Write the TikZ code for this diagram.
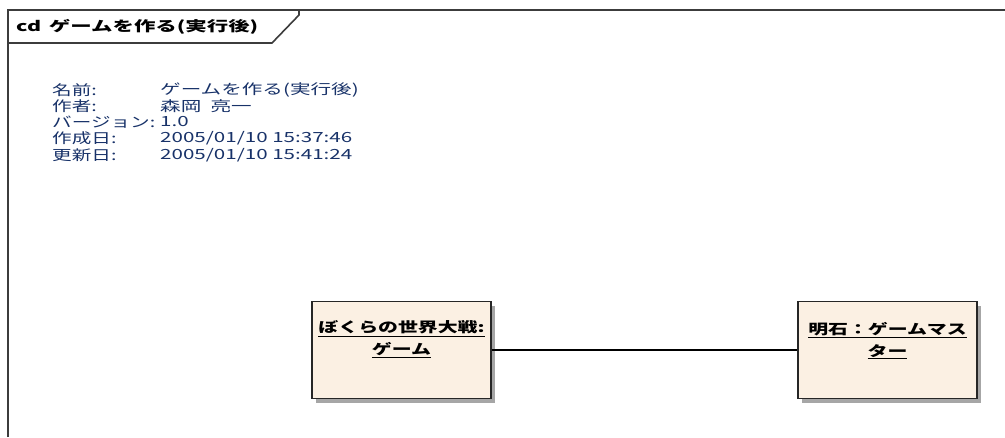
\documentclass[tikz,border=0pt]{standalone}
\usepackage{fontspec}
\usetikzlibrary{shadows}
\newfontfamily\jp[FakeStretch=1.47]{Noto Sans CJK JP}
\newfontfamily\jplab[FakeStretch=1.4]{Noto Sans CJK JP}
\newfontfamily\jpbox[FakeStretch=1.42]{Noto Sans CJK JP}
\newfontfamily\jptitle[FakeStretch=1.53]{Noto Sans CJK JP}
\definecolor{infoblue}{RGB}{24,50,105}
\definecolor{boxfill}{RGB}{251,240,227}
\definecolor{framegray}{RGB}{60,60,60}
\tikzset{
  frameline/.style={draw=framegray, line width=1.6pt},
  info/.style={anchor=west, inner sep=0pt, text=infoblue, font=\jp\fontsize{14}{15}\selectfont},
  infolab/.style={info, font=\jplab\fontsize{14}{15}\selectfont},
  objbox/.style={draw=black!85, line width=1.6pt, fill=boxfill, minimum width=179pt, minimum height=97pt, inner sep=0pt,
    drop shadow={shadow xshift=4pt, shadow yshift=-4pt, fill=black!35, opacity=1}},
  objtext/.style={anchor=north, inner sep=0pt, align=center, font=\jpbox\bfseries\fontsize{14}{22}\selectfont},
  title/.style={anchor=west, inner sep=0pt, font=\jptitle\bfseries\fontsize{14}{15}\selectfont}
}
\begin{document}
\begin{tikzpicture}[x=1pt,y=-1pt]
\useasboundingbox (0,0) rectangle (1005,437);
\fill[white] (0,0) rectangle (1005,437);
% frame
\draw[frameline] (8,437) -- (8,10) -- (1005,10);
\draw[frameline] (8,43) -- (272,43) -- (299,15) -- (299,10);
\node[title] (ttl) at (16,27) {cd\hspace{3pt} ゲームを作る(実行後)};
% info
\node[infolab] (l1) at (52,90) {名前:};
\node[infolab] (l2) at (52,106) {作者:};
\node[infolab] (l3) at (52,122) {バージョン:};
\node[infolab] (l4) at (52,138) {作成日:};
\node[infolab] (l5) at (52,155) {更新日:};
\node[info] (v1) at (160,90) {ゲームを作る(実行後)};
\node[info] (v2) at (160,106) {森岡\ \ 亮一};
\node[info] (v3) at (160,122) {1.0};
\node[info] (v4) at (160,138) {2005/01/10 15:37:46};
\node[info] (v5) at (160,155) {2005/01/10 15:41:24};
% objects
\node[objbox] (b1) at (401.5,350) {};
\node[objbox] (b2) at (887.5,350) {};
\node[objtext] (t1) at ([yshift=-20pt]b1.north) {\underline{ぼくらの世界大戦:}\\\underline{ゲーム}};
\node[objtext] (t2) at ([yshift=-21pt]b2.north) {\underline{明石：ゲームマス}\\\underline{ター}};
\draw[black, line width=1.2pt] (b1.east) -- (b2.west);
\end{tikzpicture}
\end{document}
